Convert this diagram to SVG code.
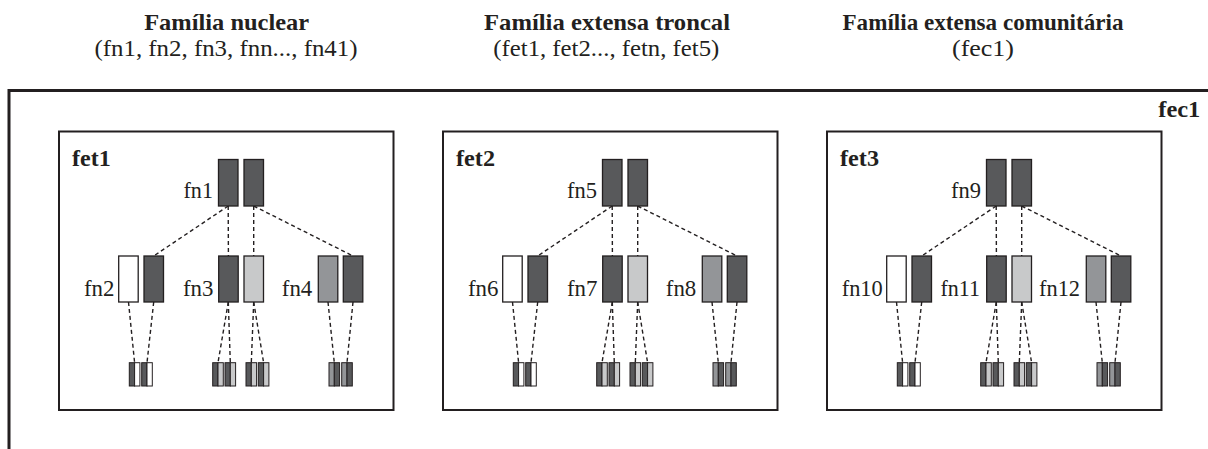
<svg xmlns="http://www.w3.org/2000/svg" width="1208" height="449" viewBox="0 0 1208 449">
<style>
text{font-family:"Liberation Serif","DejaVu Serif",serif;fill:#231f20}
.t{font-size:23px;font-weight:bold;text-anchor:middle}
.s{font-size:23px;text-anchor:middle}
.b{font-size:23px;font-weight:bold}
.l{font-size:23px;text-anchor:end}
.box{fill:#fff;stroke:#231f20;stroke-width:2}
.frame{fill:none;stroke:#231f20;stroke-width:3}
.r{stroke:#231f20;stroke-width:1.3}
.k{stroke:#231f20;stroke-width:1}
.d{fill:#58595b}.w{fill:#fff}.g{fill:#939598}.lg{fill:#c8c9ca}
.c line{stroke:#231f20;stroke-width:1.4;stroke-dasharray:4 3}
</style>
<g id="headers">
<text class="t" x="226.7" y="30" textLength="165" lengthAdjust="spacingAndGlyphs">Família nuclear</text>
<text class="s" x="226" y="56" textLength="263" lengthAdjust="spacingAndGlyphs">(fn1, fn2, fn3, fnn..., fn41)</text>
<text class="t" x="607" y="30" textLength="246" lengthAdjust="spacingAndGlyphs">Família extensa troncal</text>
<text class="s" x="606.3" y="56" textLength="226" lengthAdjust="spacingAndGlyphs">(fet1, fet2..., fetn, fet5)</text>
<text class="t" x="983" y="30" textLength="281" lengthAdjust="spacingAndGlyphs">Família extensa comunitária</text>
<text class="s" x="983" y="56" textLength="62" lengthAdjust="spacingAndGlyphs">(fec1)</text>
</g>
<g id="fec1">
<path class="frame" d="M9 449 V90.5 H1208"/>
<text class="b" x="1158.3" y="116.7" textLength="42" lengthAdjust="spacingAndGlyphs">fec1</text>
</g>
<g id="fet1">
<rect class="box" x="59" y="131.5" width="334.5" height="278.5"/>
<text class="b" x="72" y="166" textLength="38.7" lengthAdjust="spacingAndGlyphs">fet1</text>
</g>
<g id="fet2" transform="translate(384,0)">
<rect class="box" x="59" y="131.5" width="334.5" height="278.5"/>
<text class="b" x="72" y="166" textLength="39" lengthAdjust="spacingAndGlyphs">fet2</text>
</g>
<g id="fet3" transform="translate(768,0)">
<rect class="box" x="59" y="131.5" width="334.5" height="278.5"/>
<text class="b" x="72" y="166" textLength="39" lengthAdjust="spacingAndGlyphs">fet3</text>
</g>
<g id="connectors" class="c">
<g>
<line x1="228.2" y1="206" x2="153.7" y2="256"/><line x1="228.2" y1="206" x2="228.4" y2="256"/>
<line x1="253.7" y1="206" x2="253.7" y2="256"/><line x1="253.7" y1="206" x2="353" y2="256"/>
<line x1="128.5" y1="302" x2="134.6" y2="362.7"/><line x1="153.7" y1="302" x2="147" y2="362.7"/>
<line x1="228.3" y1="302" x2="218" y2="362.7"/><line x1="228.3" y1="302" x2="230.3" y2="362.7"/>
<line x1="253.7" y1="302" x2="251.3" y2="362.7"/><line x1="253.7" y1="302" x2="263.6" y2="362.7"/>
<line x1="328" y1="302" x2="334.3" y2="362.7"/><line x1="353" y1="302" x2="347" y2="362.7"/>
</g>
<g transform="translate(384,0)">
<line x1="228.2" y1="206" x2="153.7" y2="256"/><line x1="228.2" y1="206" x2="228.4" y2="256"/>
<line x1="253.7" y1="206" x2="253.7" y2="256"/><line x1="253.7" y1="206" x2="353" y2="256"/>
<line x1="128.5" y1="302" x2="134.6" y2="362.7"/><line x1="153.7" y1="302" x2="147" y2="362.7"/>
<line x1="228.3" y1="302" x2="218" y2="362.7"/><line x1="228.3" y1="302" x2="230.3" y2="362.7"/>
<line x1="253.7" y1="302" x2="251.3" y2="362.7"/><line x1="253.7" y1="302" x2="263.6" y2="362.7"/>
<line x1="328" y1="302" x2="334.3" y2="362.7"/><line x1="353" y1="302" x2="347" y2="362.7"/>
</g>
<g transform="translate(768,0)">
<line x1="228.2" y1="206" x2="153.7" y2="256"/><line x1="228.2" y1="206" x2="228.4" y2="256"/>
<line x1="253.7" y1="206" x2="253.7" y2="256"/><line x1="253.7" y1="206" x2="353" y2="256"/>
<line x1="128.5" y1="302" x2="134.6" y2="362.7"/><line x1="153.7" y1="302" x2="147" y2="362.7"/>
<line x1="228.3" y1="302" x2="218" y2="362.7"/><line x1="228.3" y1="302" x2="230.3" y2="362.7"/>
<line x1="253.7" y1="302" x2="251.3" y2="362.7"/><line x1="253.7" y1="302" x2="263.6" y2="362.7"/>
<line x1="328" y1="302" x2="334.3" y2="362.7"/><line x1="353" y1="302" x2="347" y2="362.7"/>
</g>
</g>
<g id="fn1"><text class="l" x="213" y="198.3" textLength="29.5" lengthAdjust="spacingAndGlyphs">fn1</text><rect class="r d" x="218.5" y="159.5" width="19.5" height="46.5"/><rect class="r d" x="244" y="159.5" width="19.5" height="46.5"/></g>
<g id="fn2"><text class="l" x="114.5" y="295.7" textLength="30.5" lengthAdjust="spacingAndGlyphs">fn2</text><rect class="r w" x="118.7" y="256" width="19.5" height="46"/><rect class="r d" x="144" y="256" width="19.5" height="46"/>
<rect class="k d" x="129.3" y="362.7" width="5.3" height="23.3"/><rect class="k w" x="134.6" y="362.7" width="5.3" height="23.3"/>
<rect class="k d" x="141.7" y="362.7" width="5.3" height="23.3"/><rect class="k w" x="147" y="362.7" width="5.3" height="23.3"/></g>
<g id="fn3"><text class="l" x="213.5" y="295.7" textLength="30.5" lengthAdjust="spacingAndGlyphs">fn3</text><rect class="r d" x="218.7" y="256" width="19.5" height="46"/><rect class="r lg" x="244" y="256" width="19.5" height="46"/>
<rect class="k d" x="212.7" y="362.7" width="5.3" height="23.3"/><rect class="k lg" x="218" y="362.7" width="5.3" height="23.3"/>
<rect class="k d" x="225" y="362.7" width="5.3" height="23.3"/><rect class="k lg" x="230.3" y="362.7" width="5.3" height="23.3"/>
<rect class="k d" x="246" y="362.7" width="5.3" height="23.3"/><rect class="k lg" x="251.3" y="362.7" width="5.3" height="23.3"/>
<rect class="k d" x="258.3" y="362.7" width="5.3" height="23.3"/><rect class="k lg" x="263.6" y="362.7" width="5.3" height="23.3"/></g>
<g id="fn4"><text class="l" x="312.3" y="295.7" textLength="30.5" lengthAdjust="spacingAndGlyphs">fn4</text><rect class="r g" x="318.3" y="256" width="19.5" height="46"/><rect class="r d" x="343.3" y="256" width="19.5" height="46"/>
<rect class="k g" x="329" y="362.7" width="5.3" height="23.3"/><rect class="k d" x="334.3" y="362.7" width="5.3" height="23.3"/>
<rect class="k g" x="341.7" y="362.7" width="5.3" height="23.3"/><rect class="k d" x="347" y="362.7" width="5.3" height="23.3"/></g>
<g transform="translate(384,0)">
<g id="fn5"><text class="l" x="213" y="198.3" textLength="30" lengthAdjust="spacingAndGlyphs">fn5</text><rect class="r d" x="218.5" y="159.5" width="19.5" height="46.5"/><rect class="r d" x="244" y="159.5" width="19.5" height="46.5"/></g>
<g id="fn6"><text class="l" x="114.5" y="295.7" textLength="30.5" lengthAdjust="spacingAndGlyphs">fn6</text><rect class="r w" x="118.7" y="256" width="19.5" height="46"/><rect class="r d" x="144" y="256" width="19.5" height="46"/>
<rect class="k d" x="129.3" y="362.7" width="5.3" height="23.3"/><rect class="k w" x="134.6" y="362.7" width="5.3" height="23.3"/>
<rect class="k d" x="141.7" y="362.7" width="5.3" height="23.3"/><rect class="k w" x="147" y="362.7" width="5.3" height="23.3"/></g>
<g id="fn7"><text class="l" x="213.5" y="295.7" textLength="30.5" lengthAdjust="spacingAndGlyphs">fn7</text><rect class="r d" x="218.7" y="256" width="19.5" height="46"/><rect class="r lg" x="244" y="256" width="19.5" height="46"/>
<rect class="k d" x="212.7" y="362.7" width="5.3" height="23.3"/><rect class="k lg" x="218" y="362.7" width="5.3" height="23.3"/>
<rect class="k d" x="225" y="362.7" width="5.3" height="23.3"/><rect class="k lg" x="230.3" y="362.7" width="5.3" height="23.3"/>
<rect class="k d" x="246" y="362.7" width="5.3" height="23.3"/><rect class="k lg" x="251.3" y="362.7" width="5.3" height="23.3"/>
<rect class="k d" x="258.3" y="362.7" width="5.3" height="23.3"/><rect class="k lg" x="263.6" y="362.7" width="5.3" height="23.3"/></g>
<g id="fn8"><text class="l" x="312.3" y="295.7" textLength="30.5" lengthAdjust="spacingAndGlyphs">fn8</text><rect class="r g" x="318.3" y="256" width="19.5" height="46"/><rect class="r d" x="343.3" y="256" width="19.5" height="46"/>
<rect class="k g" x="329" y="362.7" width="5.3" height="23.3"/><rect class="k d" x="334.3" y="362.7" width="5.3" height="23.3"/>
<rect class="k g" x="341.7" y="362.7" width="5.3" height="23.3"/><rect class="k d" x="347" y="362.7" width="5.3" height="23.3"/></g>
</g>
<g transform="translate(768,0)">
<g id="fn9"><text class="l" x="213" y="198.3" textLength="30" lengthAdjust="spacingAndGlyphs">fn9</text><rect class="r d" x="218.5" y="159.5" width="19.5" height="46.5"/><rect class="r d" x="244" y="159.5" width="19.5" height="46.5"/></g>
<g id="fn10"><text class="l" x="114.7" y="295.7" textLength="41" lengthAdjust="spacingAndGlyphs">fn10</text><rect class="r w" x="118.7" y="256" width="19.5" height="46"/><rect class="r d" x="144" y="256" width="19.5" height="46"/>
<rect class="k d" x="129.3" y="362.7" width="5.3" height="23.3"/><rect class="k w" x="134.6" y="362.7" width="5.3" height="23.3"/>
<rect class="k d" x="141.7" y="362.7" width="5.3" height="23.3"/><rect class="k w" x="147" y="362.7" width="5.3" height="23.3"/></g>
<g id="fn11"><text class="l" x="212" y="295.7" textLength="39.5" lengthAdjust="spacingAndGlyphs">fn11</text><rect class="r d" x="218.7" y="256" width="19.5" height="46"/><rect class="r lg" x="244" y="256" width="19.5" height="46"/>
<rect class="k d" x="212.7" y="362.7" width="5.3" height="23.3"/><rect class="k lg" x="218" y="362.7" width="5.3" height="23.3"/>
<rect class="k d" x="225" y="362.7" width="5.3" height="23.3"/><rect class="k lg" x="230.3" y="362.7" width="5.3" height="23.3"/>
<rect class="k d" x="246" y="362.7" width="5.3" height="23.3"/><rect class="k lg" x="251.3" y="362.7" width="5.3" height="23.3"/>
<rect class="k d" x="258.3" y="362.7" width="5.3" height="23.3"/><rect class="k lg" x="263.6" y="362.7" width="5.3" height="23.3"/></g>
<g id="fn12"><text class="l" x="312" y="295.7" textLength="41" lengthAdjust="spacingAndGlyphs">fn12</text><rect class="r g" x="318.3" y="256" width="19.5" height="46"/><rect class="r d" x="343.3" y="256" width="19.5" height="46"/>
<rect class="k g" x="329" y="362.7" width="5.3" height="23.3"/><rect class="k d" x="334.3" y="362.7" width="5.3" height="23.3"/>
<rect class="k g" x="341.7" y="362.7" width="5.3" height="23.3"/><rect class="k d" x="347" y="362.7" width="5.3" height="23.3"/></g>
</g>
</svg>
